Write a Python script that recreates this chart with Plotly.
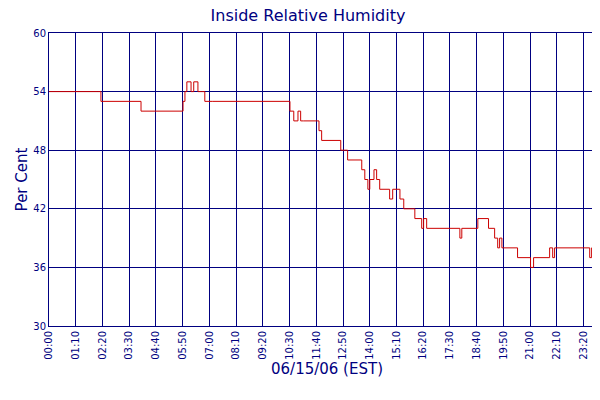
import plotly.graph_objects as go
import pandas as pd

minutes = [0, 128, 136, 241, 351, 356, 361, 372, 379, 390, 400, 408, 429, 631, 641, 652, 659, 667, 707, 714,
           764, 782, 819, 827, 835, 840, 851, 858, 866, 892, 900, 919, 929, 958, 976, 981, 989, 1076, 1081,
           1123, 1151, 1167, 1175, 1180, 1186, 1227, 1261, 1269, 1311, 1319, 1324, 1416, 1421, 1455]
humidity = [54, 54, 53, 52, 53, 54, 55, 54, 55, 54, 54, 53, 53, 52, 51, 52, 51, 51, 50, 49,
            48, 47, 46, 45, 44, 45, 46, 45, 44, 43, 44, 43, 42, 41, 40, 41, 40, 39, 40,
            41, 40, 39, 38, 39, 38, 37, 36, 37, 38, 37, 38, 37, 38, 38]
tick_minutes = [0, 70, 140, 210, 280, 350, 420, 490, 560, 630, 700, 770, 840, 910, 980, 1050, 1120, 1190, 1260, 1330, 1400, 1455]
tick_labels = ["00:00", "01:10", "02:20", "03:30", "04:40", "05:50", "07:00", "08:10", "09:20", "10:30", "11:40",
               "12:50", "14:00", "15:10", "16:20", "17:30", "18:40", "19:50", "21:00", "22:10", "23:20", "00:15"]
y_ticks = [30, 36, 42, 48, 54, 60]

base = pd.Timestamp("2006-06-15")
times = [base + pd.Timedelta(minutes=m) for m in minutes]
tick_times = [base + pd.Timedelta(minutes=m) for m in tick_minutes]

navy = "#000080"
fig = go.Figure(go.Scatter(x=times, y=humidity, mode="lines", line=dict(color="#cc0000", width=1, shape="hv"),
                           name="Relative Humidity"))
fig.update_layout(
    width=600, height=400, margin=dict(l=41, r=3, t=25, b=82, autoexpand=False),
    paper_bgcolor="white", plot_bgcolor="white",
    font=dict(family="DejaVu Sans", color=navy, size=10),
    title=dict(text="Inside Relative Humidity", x=0.5, xanchor="center", y=0.995, yanchor="top", font=dict(size=16, color=navy)),
    showlegend=True,
    legend=dict(orientation="h", x=0.5, xanchor="center", y=-0.225, yanchor="top", font=dict(size=12, color=navy)),
)
fig.update_xaxes(range=[tick_times[0], base + pd.Timedelta(minutes=1456)], tickvals=tick_times, ticktext=tick_labels,
                 tickangle=-90, automargin=False,
                 showgrid=True, gridcolor=navy, gridwidth=1, showline=True, linecolor=navy, mirror=True,
                 title=dict(text="06/15/06 (EST)", font=dict(size=15, color=navy), standoff=4),
                 tickfont=dict(size=10, color=navy))
fig.update_yaxes(range=[30, 60], tickvals=y_ticks, showgrid=True, gridcolor=navy, gridwidth=1, automargin=False,
                 showline=True, linecolor=navy, mirror=True, zeroline=False,
                 title=dict(text="Per Cent", font=dict(size=15, color=navy), standoff=2),
                 tickfont=dict(size=10, color=navy))
fig.write_html("out.html")
